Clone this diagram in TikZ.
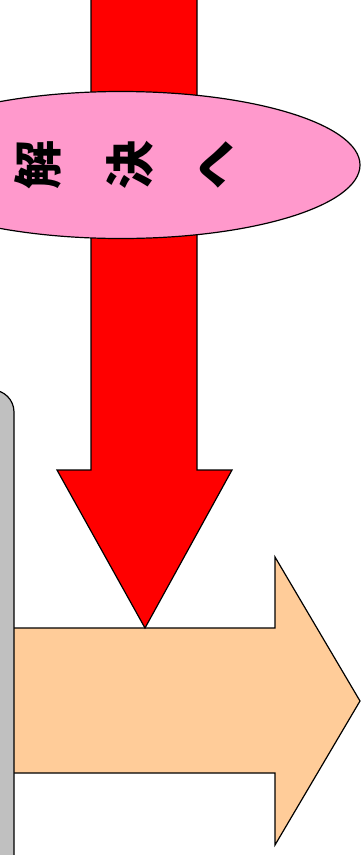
\documentclass[tikz,border=0pt]{standalone}
\usepackage{fontspec}
\newfontfamily\jpfont{Noto Sans CJK JP}
\usepackage{graphicx}
\usepackage{tikz}
\usetikzlibrary{positioning,shapes.geometric}
\definecolor{frecciarossa}{HTML}{FF0000}
\definecolor{rosa}{HTML}{FF99CC}
\definecolor{pesca}{HTML}{FFCC99}
\definecolor{grigio}{HTML}{C0C0C0}
\newcommand{\vchar}[1]{\rotatebox{90}{#1}}

\begin{document}
\begin{tikzpicture}[x=1pt, y=-1pt, line join=miter,
    bordo/.style={draw=black, line width=1.2pt},
    etichetta/.style={ellipse, bordo, fill=rosa, minimum width=478pt, minimum height=147pt, inner sep=0pt, font=\jpfont\bfseries\fontsize{49}{49}\selectfont}]
    \useasboundingbox (0,0) rectangle (361,855);
    \clip (0,0) rectangle (361,855);

    % Freccia orizzontale
    \draw[bordo, fill=pesca] (-10,628) -- (275,628) -- (275,557) -- (360,701) -- (275,845) -- (275,773) -- (-10,773) -- cycle;
    % Barra grigia a sinistra
    \draw[bordo, fill=grigio, rounded corners=22pt] (-60,920) -- (-60,390) -- (14,390) -- (14,920);

    % Freccia verticale
    \draw[bordo, fill=frecciarossa] (91,-10) -- (91,470) -- (57,470) -- (145,628) -- (232,470) -- (197,470) -- (197,-10) -- cycle;

    % Ellisse con testo
    \node[etichetta] (obiettivo) at (121,165) {\hspace{6pt}\vchar{解}\hspace{46pt}\vchar{決}\hspace{46pt}\vchar{へ}};
\end{tikzpicture}
\end{document}
